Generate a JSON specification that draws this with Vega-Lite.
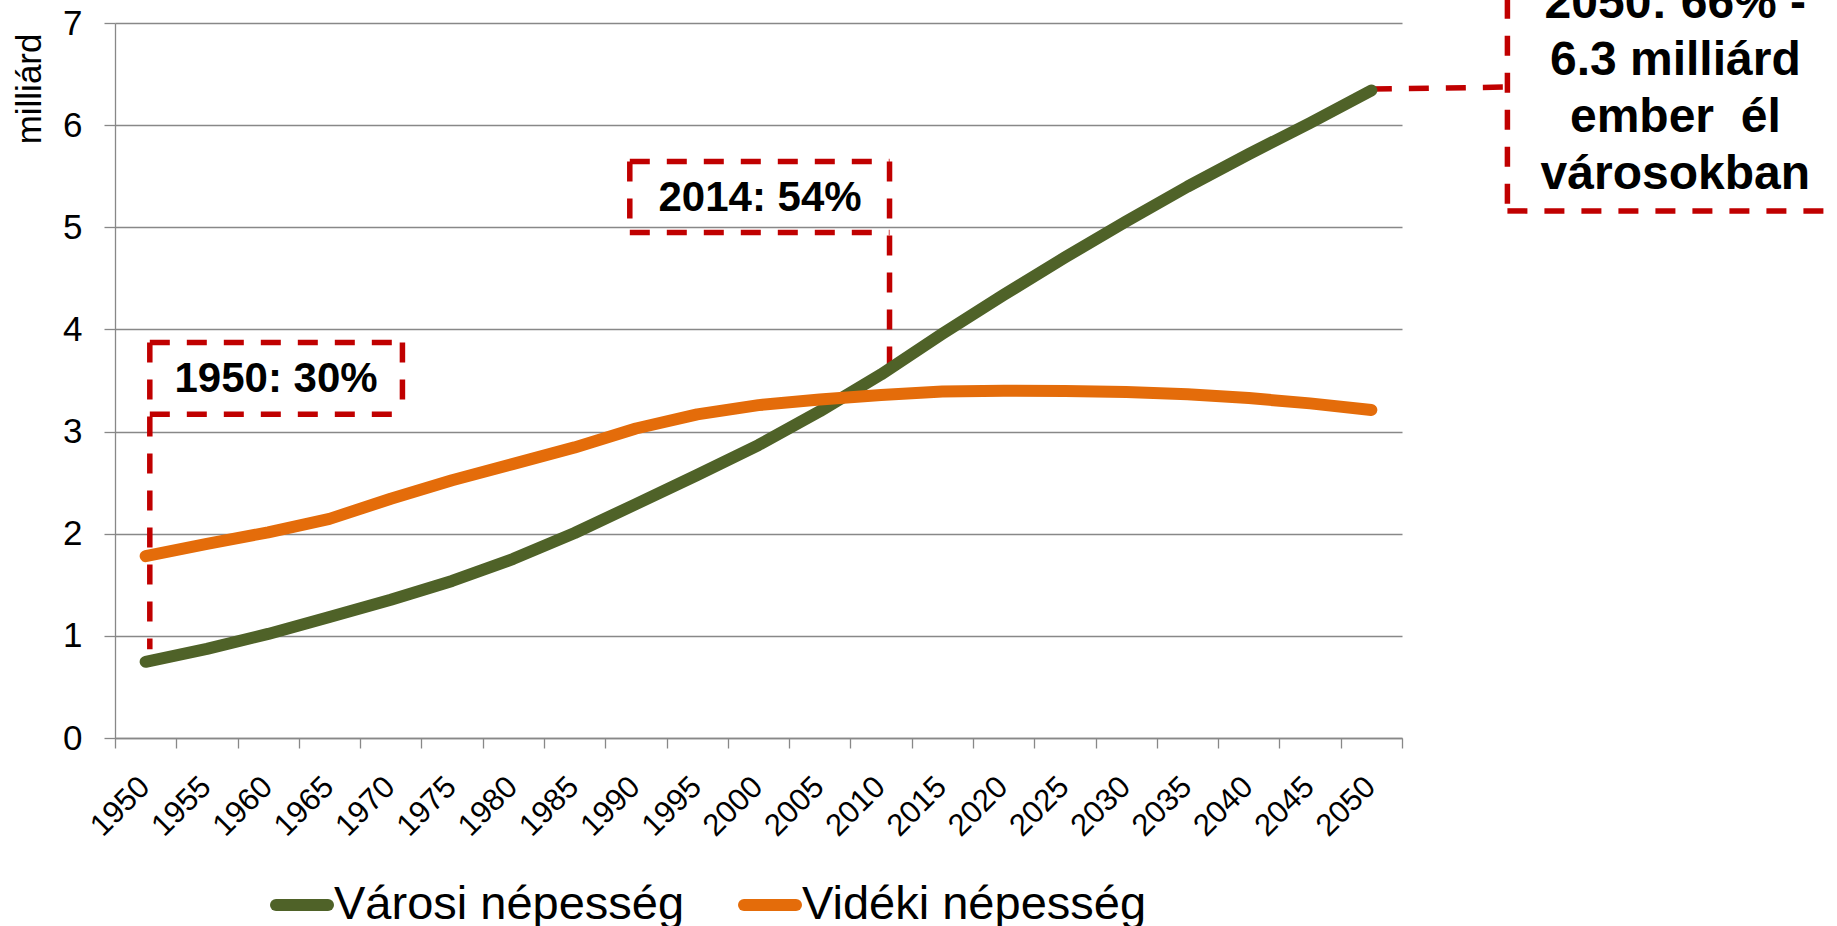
{
  "$schema": "https://vega.github.io/schema/vega-lite/v6.json",
  "autosize": {"type": "none"},
  "width": 1287,
  "height": 715,
  "padding": {"left": 115, "top": 23, "right": 435, "bottom": 188},
  "background": "white",
  "config": {"font": "Liberation Sans", "view": {"stroke": null}},
  "datasets": {
    "pop": [
      {"year": 1950, "series": "Városi népesség", "value": 0.746},
      {"year": 1955, "series": "Városi népesség", "value": 0.872},
      {"year": 1960, "series": "Városi népesség", "value": 1.019},
      {"year": 1965, "series": "Városi népesség", "value": 1.185},
      {"year": 1970, "series": "Városi népesség", "value": 1.354},
      {"year": 1975, "series": "Városi népesség", "value": 1.538},
      {"year": 1980, "series": "Városi népesség", "value": 1.754},
      {"year": 1985, "series": "Városi népesség", "value": 2.007},
      {"year": 1990, "series": "Városi népesség", "value": 2.29},
      {"year": 1995, "series": "Városi népesség", "value": 2.575},
      {"year": 2000, "series": "Városi népesség", "value": 2.868},
      {"year": 2005, "series": "Városi népesség", "value": 3.199},
      {"year": 2010, "series": "Városi népesség", "value": 3.559},
      {"year": 2015, "series": "Városi népesség", "value": 3.957},
      {"year": 2020, "series": "Városi népesség", "value": 4.338},
      {"year": 2025, "series": "Városi népesség", "value": 4.705},
      {"year": 2030, "series": "Városi népesség", "value": 5.058},
      {"year": 2035, "series": "Városi népesség", "value": 5.398},
      {"year": 2040, "series": "Városi népesség", "value": 5.716},
      {"year": 2045, "series": "Városi népesség", "value": 6.021},
      {"year": 2050, "series": "Városi népesség", "value": 6.339},
      {"year": 1950, "series": "Vidéki népesség", "value": 1.78},
      {"year": 1955, "series": "Vidéki népesség", "value": 1.9},
      {"year": 1960, "series": "Vidéki népesség", "value": 2.014},
      {"year": 1965, "series": "Vidéki népesség", "value": 2.145},
      {"year": 1970, "series": "Vidéki népesség", "value": 2.342},
      {"year": 1975, "series": "Vidéki népesség", "value": 2.523},
      {"year": 1980, "series": "Vidéki népesség", "value": 2.684},
      {"year": 1985, "series": "Vidéki népesség", "value": 2.845},
      {"year": 1990, "series": "Vidéki népesség", "value": 3.03},
      {"year": 1995, "series": "Vidéki népesség", "value": 3.169},
      {"year": 2000, "series": "Vidéki népesség", "value": 3.259},
      {"year": 2005, "series": "Vidéki népesség", "value": 3.314},
      {"year": 2010, "series": "Vidéki népesség", "value": 3.357},
      {"year": 2015, "series": "Vidéki népesség", "value": 3.392},
      {"year": 2020, "series": "Vidéki népesség", "value": 3.399},
      {"year": 2025, "series": "Vidéki népesség", "value": 3.398},
      {"year": 2030, "series": "Vidéki népesség", "value": 3.387},
      {"year": 2035, "series": "Vidéki népesség", "value": 3.365},
      {"year": 2040, "series": "Vidéki népesség", "value": 3.328},
      {"year": 2045, "series": "Vidéki népesség", "value": 3.276},
      {"year": 2050, "series": "Vidéki népesség", "value": 3.212}
    ],
    "segments": [
      {"xa": 1950.34, "xb": 1970.95, "ya": 3.872, "yb": 3.872},
      {"xa": 1970.95, "xb": 1970.95, "ya": 3.872, "yb": 3.17},
      {"xa": 1950.34, "xb": 1970.95, "ya": 3.17, "yb": 3.17},
      {"xa": 1950.34, "xb": 1950.34, "ya": 3.872, "yb": 0.869},
      {"xa": 1989.5, "xb": 2010.69, "ya": 5.644, "yb": 5.644},
      {"xa": 1989.5, "xb": 1989.5, "ya": 5.644, "yb": 4.949},
      {"xa": 1989.5, "xb": 2010.69, "ya": 4.949, "yb": 4.949},
      {"xa": 2010.69, "xb": 2010.69, "ya": 5.644, "yb": 3.529},
      {"xa": 2050.04, "xb": 2060.9, "ya": 6.353, "yb": 6.373},
      {"xa": 2061.1, "xb": 2061.1, "ya": 7.6, "yb": 5.16},
      {"xa": 2061.1, "xb": 2100, "ya": 5.16, "yb": 5.16}
    ],
    "boxnotes": [
      {"x": 1960.64, "y": 3.514, "label": "1950: 30%"},
      {"x": 2000.13, "y": 5.289, "label": "2014: 54%"}
    ],
    "bignote": [
      {"x": 2074.8, "y": 7.19, "label": "2050: 66% -\n6.3 milliárd\nember\u00a0 él\nvárosokban"}
    ]
  },
  "layer": [
    {
      "data": {"name": "segments"},
      "mark": {"type": "rule", "color": "#C00000", "strokeWidth": 5.5, "strokeDash": [20, 17], "strokeCap": "butt", "clip": false},
      "encoding": {
        "x": {
          "field": "xa", "type": "quantitative",
          "scale": {"domain": [1947.5, 2052.5], "nice": false, "zero": false},
          "axis": {
            "orient": "bottom",
            "values": [1947.5, 1952.5, 1957.5, 1962.5, 1967.5, 1972.5, 1977.5, 1982.5, 1987.5, 1992.5, 1997.5, 2002.5, 2007.5, 2012.5, 2017.5, 2022.5, 2027.5, 2032.5, 2037.5, 2042.5, 2047.5, 2052.5],
            "title": null, "labels": false, "grid": false,
            "ticks": true, "tickSize": 10, "tickColor": "#888888", "tickWidth": 1.3,
            "domain": true, "domainColor": "#888888", "domainWidth": 1.3
          }
        },
        "x2": {"field": "xb"},
        "y": {
          "field": "ya", "type": "quantitative",
          "scale": {"domain": [0, 7], "nice": false},
          "axis": {
            "orient": "left",
            "values": [0, 1, 2, 3, 4, 5, 6, 7],
            "title": "milliárd",
            "grid": true, "gridColor": "#888888", "gridWidth": 1.3,
            "domain": true, "domainColor": "#888888", "domainWidth": 1.3,
            "ticks": true, "tickSize": 11, "tickColor": "#888888", "tickWidth": 1.3,
            "labelFontSize": 35, "labelPadding": 22, "labelColor": "black",
            "titleFontSize": 35, "titleFontWeight": "normal", "titleColor": "black",
            "titleAngle": -90, "titleAlign": "right", "titleBaseline": "alphabetic",
            "titleX": -75, "titleY": 10
          }
        },
        "y2": {"field": "yb"}
      }
    },
    {
      "data": {"name": "pop"},
      "mark": {"type": "line", "strokeWidth": 12, "strokeCap": "round", "strokeJoin": "round"},
      "encoding": {
        "x": {
          "field": "year", "type": "quantitative",
          "scale": {"domain": [1947.5, 2052.5], "nice": false, "zero": false},
          "axis": {
            "orient": "bottom",
            "values": [1950, 1955, 1960, 1965, 1970, 1975, 1980, 1985, 1990, 1995, 2000, 2005, 2010, 2015, 2020, 2025, 2030, 2035, 2040, 2045, 2050],
            "format": "d", "title": null, "ticks": false, "tickSize": 0, "domain": false, "grid": false,
            "labelAngle": -45, "labelAlign": "right", "labelBaseline": "middle",
            "labelPadding": 44, "labelOffset": -1, "labelFontSize": 31, "labelColor": "black",
            "labelOverlap": false, "labelFlush": false, "labelBound": false
          }
        },
        "y": {"field": "value", "type": "quantitative", "axis": null},
        "color": {
          "field": "series", "type": "nominal",
          "scale": {"domain": ["Városi népesség", "Vidéki népesség"], "range": ["#4F6228", "#E46C0A"]},
          "legend": {
            "orient": "none", "legendX": 155, "legendY": 850, "direction": "horizontal",
            "title": null, "labelFontSize": 47, "labelColor": "black", "labelLimit": 0,
            "symbolType": "stroke", "symbolSize": 2704, "symbolStrokeWidth": 12,
            "labelOffset": 0, "columnPadding": 35,
            "encode": {"symbols": {"update": {"strokeCap": {"value": "round"}}}}
          }
        }
      }
    },
    {
      "data": {"name": "boxnotes"},
      "mark": {"type": "text", "font": "Liberation Sans", "fontWeight": "bold", "fontSize": 42, "align": "center", "baseline": "middle", "color": "black"},
      "encoding": {
        "x": {"field": "x", "type": "quantitative", "axis": null},
        "y": {"field": "y", "type": "quantitative", "axis": null},
        "text": {"field": "label"}
      }
    },
    {
      "data": {"name": "bignote"},
      "mark": {"type": "text", "font": "Liberation Sans", "fontWeight": "bold", "fontSize": 48, "align": "center", "baseline": "middle", "lineBreak": "\n", "lineHeight": 57, "color": "black", "clip": false},
      "encoding": {
        "x": {"field": "x", "type": "quantitative", "axis": null},
        "y": {"field": "y", "type": "quantitative", "axis": null},
        "text": {"field": "label"}
      }
    }
  ],
  "resolve": {"axis": {"x": "independent", "y": "independent"}}
}
